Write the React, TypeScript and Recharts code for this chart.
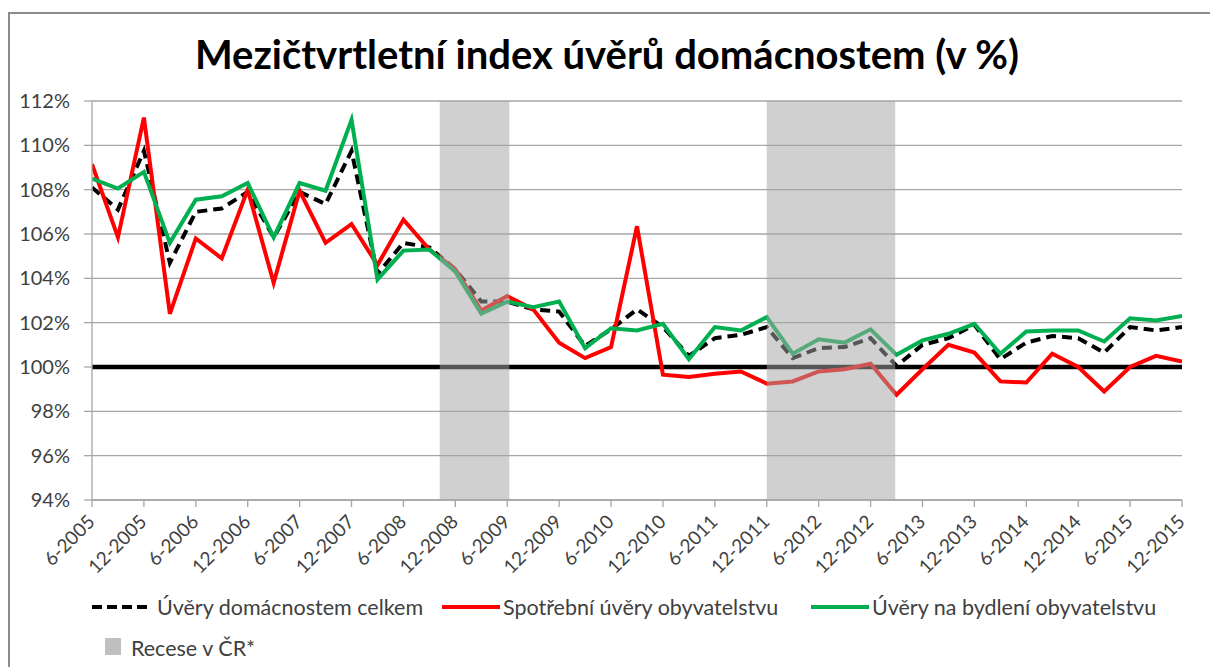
import React from 'react';
import {
  ComposedChart, Line, XAxis, YAxis, CartesianGrid,
  ReferenceArea, ReferenceLine
} from 'recharts';

const quarters = [
  '6-2005', '9-2005', '12-2005', '3-2006', '6-2006', '9-2006', '12-2006', '3-2007',
  '6-2007', '9-2007', '12-2007', '3-2008', '6-2008', '9-2008', '12-2008', '3-2009',
  '6-2009', '9-2009', '12-2009', '3-2010', '6-2010', '9-2010', '12-2010', '3-2011',
  '6-2011', '9-2011', '12-2011', '3-2012', '6-2012', '9-2012', '12-2012', '3-2013',
  '6-2013', '9-2013', '12-2013', '3-2014', '6-2014', '9-2014', '12-2014', '3-2015',
  '6-2015', '9-2015', '12-2015',
];

const totalLoans = [
  108.1, 107.1, 109.75, 104.7, 107.0, 107.15, 107.9, 105.85, 107.9, 107.35,
  109.75, 104.2, 105.6, 105.4, 104.4, 102.95, 102.95, 102.6, 102.5, 100.95,
  101.7, 102.6, 101.8, 100.5, 101.3, 101.45, 101.8, 100.4, 100.85, 100.9,
  101.3, 100.05, 101.0, 101.3, 101.9, 100.35, 101.1, 101.4, 101.3, 100.65,
  101.8, 101.65, 101.8,
];

const consumerLoans = [
  109.15, 105.85, 111.25, 102.4, 105.8, 104.9, 108.0, 103.8, 107.95, 105.6,
  106.45, 104.6, 106.65, 105.3, 104.4, 102.55, 103.2, 102.6, 101.1, 100.4,
  100.9, 106.35, 99.65, 99.55, 99.7, 99.8, 99.25, 99.35, 99.8, 99.9,
  100.15, 98.75, 99.9, 101.0, 100.65, 99.35, 99.3, 100.6, 100.0, 98.9,
  100.0, 100.5, 100.25,
];

const housingLoans = [
  108.5, 108.05, 108.8, 105.6, 107.55, 107.7, 108.3, 105.85, 108.3, 107.95,
  111.15, 103.95, 105.25, 105.3, 104.3, 102.4, 102.95, 102.7, 102.95, 100.85,
  101.75, 101.65, 101.95, 100.35, 101.8, 101.65, 102.25, 100.6, 101.25, 101.1,
  101.7, 100.55, 101.2, 101.5, 101.95, 100.6, 101.6, 101.65, 101.65, 101.15,
  102.2, 102.1, 102.3,
];

// recession spans, in quarter positions on the x axis
const recessionStart = [13.4, 26.0];
const recessionEnd = [16.08, 30.95];

const xTicks = [0, 2, 4, 6, 8, 10, 12, 14, 16, 18, 20, 22, 24, 26, 28, 30, 32, 34, 36, 38, 40, 42];
const yTicks = [94, 96, 98, 100, 102, 104, 106, 108, 110, 112];

const data = quarters.map((q, i) => ({
  i,
  q,
  total: totalLoans[i],
  consumer: consumerLoans[i],
  housing: housingLoans[i],
}));

const FONT = 'Lato, "Open Sans", sans-serif';
const TEXT = '#404040';
const GRID = '#a6a6a6';

const XTick = ({ x, y, payload }: any) => (
  <g transform={`translate(${x + 4},${y + 14})`}>
    <text transform="rotate(-45)" textAnchor="end" fill={TEXT} fontSize={19} fontFamily={FONT}>
      {quarters[payload.value]}
    </text>
  </g>
);

const legendText = { position: 'absolute' as const, fontSize: 21.5, color: TEXT, fontFamily: FONT, lineHeight: '24px', whiteSpace: 'nowrap' as const };

export default function App() {
  return (
    <div style={{ position: 'fixed', left: 0, top: 0, width: 1210, height: 667, overflow: 'hidden', background: '#fff' }}>
      <div style={{ position: 'absolute', left: 8, top: 12, width: 1300, height: 800, border: '2px solid #8c8c8c' }} />
      <div style={{ position: 'absolute', left: 0, top: 30, width: 1214, textAlign: 'center', fontFamily: FONT, fontWeight: 700, fontSize: 40, lineHeight: '48px', color: '#000' }}>
        Mezičtvrtletní index úvěrů domácnostem (v %)
      </div>
      <div style={{ position: 'absolute', left: 0, top: 0 }}>
        <ComposedChart width={1210} height={667} data={data} margin={{ top: 101, right: 28, left: 10, bottom: 107 }}>
          <CartesianGrid horizontal vertical={false} stroke={GRID} strokeWidth={1.3} />
          <XAxis
            dataKey="i"
            type="number"
            domain={[0, 42]}
            ticks={xTicks}
            interval={0}
            height={60}
            tick={<XTick />}
            tickSize={7}
            axisLine={{ stroke: GRID, strokeWidth: 1.3 }}
            tickLine={{ stroke: GRID, strokeWidth: 1.3 }}
            allowDataOverflow
          />
          <YAxis
            type="number"
            domain={[94, 112]}
            ticks={yTicks}
            interval={0}
            width={82}
            tickSize={8}
            tickMargin={14}
            tickFormatter={(v: number) => `${v}%`}
            tick={{ fill: TEXT, fontSize: 20, fontFamily: FONT }}
            axisLine={{ stroke: GRID, strokeWidth: 1.3 }}
            tickLine={{ stroke: GRID, strokeWidth: 1.3 }}
            allowDataOverflow
          />
          <ReferenceLine y={100} stroke="#000" strokeWidth={4.5} zIndex={350} />
          <Line dataKey="total" type="linear" stroke="#000" strokeWidth={4} strokeDasharray="10 6" dot={false} isAnimationActive={false} />
          <Line dataKey="consumer" type="linear" stroke="#ff0000" strokeWidth={4} dot={false} isAnimationActive={false} />
          <Line dataKey="housing" type="linear" stroke="#00b050" strokeWidth={4} dot={false} isAnimationActive={false} />
          {recessionStart.map((s, k) => (
            <ReferenceArea
              key={k}
              x1={s}
              x2={recessionEnd[k]}
              y1={94}
              y2={112}
              fill="#a4a4a4"
              fillOpacity={0.52}
              stroke="none"
              zIndex={450}
            />
          ))}
        </ComposedChart>
      </div>
      <svg style={{ position: 'absolute', left: 90, top: 599 }} width={62} height={16}>
        <line x1={2} y1={8} x2={60} y2={8} stroke="#000" strokeWidth={4} strokeDasharray="10 5" />
      </svg>
      <div style={{ ...legendText, left: 157, top: 595 }}>Úvěry domácnostem celkem</div>
      <svg style={{ position: 'absolute', left: 442, top: 599 }} width={58} height={16}>
        <line x1={0} y1={8} x2={58} y2={8} stroke="#ff0000" strokeWidth={4} />
      </svg>
      <div style={{ ...legendText, left: 503, top: 595 }}>Spotřební úvěry obyvatelstvu</div>
      <svg style={{ position: 'absolute', left: 811, top: 599 }} width={58} height={16}>
        <line x1={0} y1={8} x2={58} y2={8} stroke="#00b050" strokeWidth={4} />
      </svg>
      <div style={{ ...legendText, left: 872, top: 595 }}>Úvěry na bydlení obyvatelstvu</div>
      <div style={{ position: 'absolute', left: 105, top: 638, width: 16, height: 17, background: '#c0c0c0' }} />
      <div style={{ ...legendText, left: 131, top: 636 }}>Recese v ČR*</div>
    </div>
  );
}
